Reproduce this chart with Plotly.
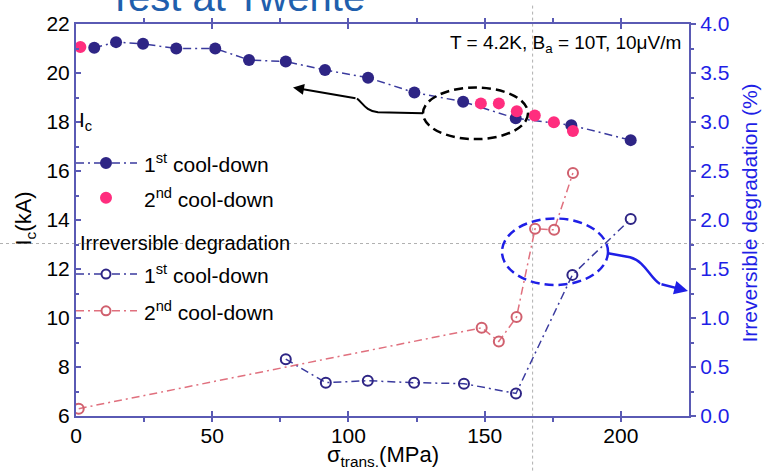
import plotly.graph_objects as go

# ---------------- data ----------------
ic1_x = [6.7, 14.7, 24.6, 36.8, 51.1, 63.5, 77.0, 91.4, 107.2, 124.2, 142.1, 161.4, 181.8, 203.6]
ic1_y = [21.03, 21.26, 21.19, 21.0, 21.0, 20.53, 20.47, 20.12, 19.81, 19.2, 18.83, 18.15, 17.87, 17.26]
ic2_x = [1.6, 148.6, 155.2, 161.8, 168.4, 175.4, 182.4]
ic2_y = [21.06, 18.76, 18.76, 18.44, 18.27, 17.99, 17.63]
deg1_x = [77.0, 91.7, 107.1, 124.1, 142.4, 161.5, 182.2, 203.6]
deg1_y = [0.58, 0.34, 0.36, 0.34, 0.33, 0.23, 1.44, 2.01]
deg2_x = [1.0, 148.9, 155.2, 161.7, 168.5, 175.5, 182.4]
deg2_y = [0.075, 0.90, 0.76, 1.01, 1.91, 1.90, 2.48]

x_range = [0, 225]
y_range = [6, 22]
y2_range = [0, 4]
cross_x = 167.6   # vertical dashed guide (MPa)
cross_y = 13.04   # horizontal dashed guide (kA)

legend_labels = ["1<sup>st</sup> cool-down", "2<sup>nd</sup> cool-down",
                 "1<sup>st</sup> cool-down", "2<sup>nd</sup> cool-down"]

# ---------------- styling ----------------
W, H = 764, 471
ML, MR, MT, MB = 76, 75, 21, 55
PW, PH = W - ML - MR, H - MT - MB
FONT = "Arial, Liberation Sans, sans-serif"
NAVY = "#2E2585"
NAVY_LINE = "#3A3A9E"
PINK = "#FF2D7E"
ROSE = "#D0606E"
ROSE_LINE = "#E0707E"
AXIS = "#5A5AB4"
BLUE = "#1F1FE6"
DASHDOT = "8px,4px,2px,4px"


def px(x):
    return (x - ML) / PW


def py(y):
    return (H - MB - y) / PH


fig = go.Figure()
fig.add_trace(go.Scatter(x=ic1_x, y=ic1_y, mode="lines+markers",
                         line=dict(color=NAVY_LINE, width=1.5, dash=DASHDOT),
                         marker=dict(color=NAVY, size=12), showlegend=False))
fig.add_trace(go.Scatter(x=ic2_x, y=ic2_y, mode="markers",
                         marker=dict(color=PINK, size=12), showlegend=False))
fig.add_trace(go.Scatter(x=deg1_x, y=deg1_y, yaxis="y2", mode="lines+markers",
                         line=dict(color=NAVY_LINE, width=1.5, dash=DASHDOT),
                         marker=dict(color=NAVY, size=10, symbol="circle-open", line=dict(width=2)),
                         showlegend=False))
fig.add_trace(go.Scatter(x=deg2_x, y=deg2_y, yaxis="y2", mode="lines+markers",
                         line=dict(color=ROSE_LINE, width=1.5, dash=DASHDOT),
                         marker=dict(color=ROSE, size=10, symbol="circle-open", line=dict(width=2)),
                         showlegend=False))

shapes = []
annotations = []

# crosshair guides spanning the whole figure
gx = (cross_x - x_range[0]) / (x_range[1] - x_range[0])
gy = (cross_y - y_range[0]) / (y_range[1] - y_range[0])
shapes.append(dict(type="line", xref="paper", yref="paper", x0=gx, x1=gx, y0=py(H), y1=py(0),
                   line=dict(color="#B0B0B0", width=1, dash="3px,3px"), layer="below"))
shapes.append(dict(type="line", xref="paper", yref="paper", x0=px(0), x1=px(W), y0=gy, y1=gy,
                   line=dict(color="#B0B0B0", width=1, dash="3px,3px"), layer="below"))

# custom legend
leg_rows = [161, 196, 273, 310]
leg_line = [NAVY_LINE, None, NAVY_LINE, ROSE_LINE]
leg_fill = [NAVY, PINK, None, None]
leg_edge = [NAVY, PINK, NAVY, ROSE]
for row, lc, fc, ec, lab in zip(leg_rows, leg_line, leg_fill, leg_edge, legend_labels):
    if lc:
        shapes.append(dict(type="line", xref="paper", yref="paper", x0=px(76), x1=px(137),
                           y0=py(row), y1=py(row), line=dict(color=lc, width=1.5, dash=DASHDOT)))
    r = 6 if fc else 4.5
    shapes.append(dict(type="circle", xref="paper", yref="paper", xsizemode="pixel", ysizemode="pixel",
                       xanchor=px(106), yanchor=py(row), x0=-r, x1=r, y0=-r, y1=r,
                       fillcolor=fc if fc else "white", line=dict(color=ec, width=0 if fc else 2)))
    annotations.append(dict(x=px(142), y=py(row), xref="paper", yref="paper", xanchor="left",
                            yanchor="middle", text=lab, showarrow=False,
                            font=dict(family=FONT, size=21, color="black")))
annotations.append(dict(x=px(77), y=py(119), xref="paper", yref="paper", xanchor="left", yanchor="middle",
                        text="I<sub>c</sub>", showarrow=False, font=dict(family=FONT, size=21, color="black")))
annotations.append(dict(x=px(78), y=py(242), xref="paper", yref="paper", xanchor="left", yanchor="middle",
                        text="Irreversible degradation", showarrow=False,
                        font=dict(family=FONT, size=20, color="black")))

# axis titles
annotations.append(dict(x=px(383), y=py(456), xref="paper", yref="paper", xanchor="center", yanchor="middle",
                        text="\u03c3<sub>trans.</sub>(MPa)", showarrow=False,
                        font=dict(family=FONT, size=22, color="black")))
annotations.append(dict(x=px(25), y=py(217), xref="paper", yref="paper", xanchor="center", yanchor="middle",
                        text="I<sub>c</sub>(kA)", textangle=-90, showarrow=False,
                        font=dict(family=FONT, size=22, color="black")))
annotations.append(dict(x=px(750), y=py(212), xref="paper", yref="paper", xanchor="center", yanchor="middle",
                        text="Irreversible degradation (%)", textangle=-90, showarrow=False,
                        font=dict(family=FONT, size=21, color=BLUE)))

# header texts
annotations.append(dict(x=px(236), y=py(18), xref="paper", yref="paper", xanchor="center", yanchor="bottom",
                        text="Test at Twente", showarrow=False, font=dict(family=FONT, size=40, color="#1F5FAD")))
annotations.append(dict(x=px(683), y=py(41), xref="paper", yref="paper", xanchor="right", yanchor="middle",
                        text="T = 4.2K, B<sub>a</sub> = 10T, 10\u03bcV/m", showarrow=False,
                        font=dict(family=FONT, size=19, color="black")))

# black dashed ellipse + curved arrow
shapes.append(dict(type="circle", xref="paper", yref="paper", x0=px(423), x1=px(528), y0=py(137), y1=py(85),
                   line=dict(color="black", width=2.5, dash="9px,5px")))
shapes.append(dict(type="path", xref="paper", yref="paper",
                   path=f"M {px(423)},{py(111)} L {px(378)},{py(110)} "
                        f"C {px(366)},{py(109)} {px(363)},{py(101)} {px(357)},{py(96)}",
                   line=dict(color="black", width=2)))
annotations.append(dict(x=px(293), y=py(85), xref="paper", yref="paper", ax=64, ay=11,
                        text="", showarrow=True, arrowhead=2, arrowsize=1.1, arrowwidth=2, arrowcolor="black"))

# blue dashed ellipse + curved arrow
shapes.append(dict(type="circle", xref="paper", yref="paper", x0=px(502), x1=px(608), y0=py(284), y1=py(217),
                   line=dict(color=BLUE, width=2.5, dash="9px,5px")))
shapes.append(dict(type="path", xref="paper", yref="paper",
                   path=f"M {px(608)},{py(252)} L {px(630)},{py(256)} "
                        f"C {px(645)},{py(260)} {px(650)},{py(277)} {px(660)},{py(283)}",
                   line=dict(color=BLUE, width=2.5)))
annotations.append(dict(x=px(688), y=py(290), xref="paper", yref="paper", ax=-28, ay=-7,
                        text="", showarrow=True, arrowhead=2, arrowsize=1.1, arrowwidth=2.5, arrowcolor=BLUE))

fig.update_layout(
    width=W, height=H, margin=dict(l=ML, r=MR, t=MT, b=MB),
    paper_bgcolor="white", plot_bgcolor="white", showlegend=False,
    font=dict(family=FONT, color="black"),
    xaxis=dict(range=x_range, dtick=50, tick0=0, showgrid=False, zeroline=False,
               showline=True, linecolor=AXIS, linewidth=2, mirror="ticks",
               ticks="inside", ticklen=5, tickcolor=AXIS, tickwidth=1.5,
               minor=dict(dtick=25, ticks="outside", ticklen=4, tickcolor=AXIS, tickwidth=1.5),
               tickfont=dict(size=21, color="black")),
    yaxis=dict(range=y_range, dtick=2, tick0=6, showgrid=False, zeroline=False,
               showline=True, linecolor=AXIS, linewidth=2,
               ticks="inside", ticklen=5, tickcolor=AXIS, tickwidth=1.5,
               minor=dict(dtick=1, ticks="inside", ticklen=3, tickcolor=AXIS, tickwidth=1.5),
               tickfont=dict(size=21, color="black")),
    yaxis2=dict(range=y2_range, dtick=0.5, tick0=0, tickformat=".1f", overlaying="y", side="right",
                anchor="x", showgrid=False, zeroline=False,
                showline=True, linecolor=AXIS, linewidth=2,
                ticks="outside", ticklen=5, tickcolor=AXIS, tickwidth=1.5,
                minor=dict(dtick=0.25, ticks="outside", ticklen=3, tickcolor=AXIS, tickwidth=1.5),
                tickfont=dict(size=21, color=BLUE)),
    shapes=shapes, annotations=annotations,
)

fig.write_html("out.html", config={"displayModeBar": False},
               post_script="document.body.style.margin='0';document.body.style.overflow='hidden';")
